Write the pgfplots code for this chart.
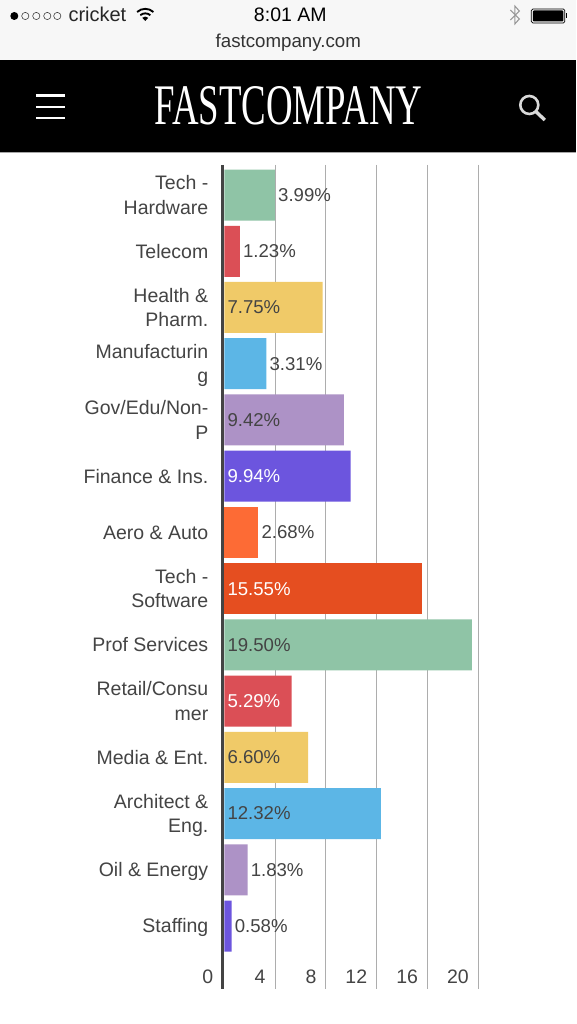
\documentclass[border=0pt]{standalone}
\usepackage{fontspec}
\setmainfont{Liberation Sans}
\newfontfamily\logofont{Liberation Serif}
\usepackage{graphicx}
\usepackage{pgfplots}
\pgfplotsset{compat=1.18}
\definecolor{cGreen}{HTML}{8FC4A6}
\definecolor{cRed}{HTML}{DB4F56}
\definecolor{cYellow}{HTML}{F0CA68}
\definecolor{cBlue}{HTML}{5CB6E6}
\definecolor{cPurple}{HTML}{AD92C6}
\definecolor{cViolet}{HTML}{6C55DE}
\definecolor{cOrange}{HTML}{FD6B35}
\definecolor{cDeep}{HTML}{E54E20}
\definecolor{txt}{HTML}{444444}
\begin{document}
\begin{tikzpicture}
\begin{scope}[x=1pt,y=1pt]
% page, y measured from the top of the screenshot
\fill[white] (0,0) rectangle (576,1024);
\fill[black!3] (0,1024) rectangle (576,964);
\fill[black] (0,1024-60.5) rectangle (576,1024-152.5);
\draw[black!35,line width=0.6pt] (0,1024-152.5) -- (576,1024-152.5);
% status bar
\fill[black] (14,1024-16) circle (4);
\foreach \x in {25,36,47,57}{\draw[black!75,line width=0.6pt] (\x,1024-16) circle (3.6);}
\node[anchor=base west,inner sep=0,font=\fontsize{20}{22}\selectfont,text=black!85] at (68,1024-22) {cricket};
\node[anchor=base,inner sep=0,font=\fontsize{19.5}{22}\selectfont,text=black] at (290,1024-22) {8:01 AM};
\node[anchor=base,inner sep=0,font=\fontsize{18.7}{22}\selectfont,text=black!80] at (288,1024-48) {fastcompany.com};
% wifi
\begin{scope}[shift={(145,1024-21)},line width=1.9pt,black]
\draw (-8.2,9) arc[start angle=132,end angle=48,radius=12.2];
\draw (-5,5.8) arc[start angle=130,end angle=50,radius=7.8];
\fill (0,0) -- (-3,3.2) arc[start angle=135,end angle=45,radius=4.2] -- cycle;
\end{scope}
% bluetooth
\draw[black!40,line width=1.1pt] (510,1024-10) -- (519,1024-19) -- (514.5,1024-24) -- (514.5,1024-6) -- (519,1024-11) -- (510,1024-20);
% battery
\draw[black,line width=0.7pt,rounded corners=1.5pt] (531,1024-9) rectangle (564.5,1024-23);
\fill[black,rounded corners=1pt] (532.5,1024-10.5) rectangle (563,1024-21.5);
\fill[black] (565.5,1024-13.5) rectangle (567,1024-18.5);
% header icons and wordmark
\foreach \y in {95.5,107,118}{\fill[white] (36,1024-\y-1.3) rectangle (65,1024-\y+1.3);}
\node[anchor=south west,inner sep=0,text=white] at (154,1024-125.5) {\resizebox{268pt}{38pt}{\logofont FASTCOMPANY}};
\draw[white!85!black,line width=2.6pt] (529,1024-105) circle (9);
\draw[white!85!black,line width=3.4pt] (536,1024-112) -- (544.5,1024-120);
\end{scope}
\begin{axis}[
  at={(222.5pt,35pt)},anchor=south west,
  scale only axis,width=255.5pt,height=824pt,
  xmin=-0.12,xmax=20,
  ymin=-0.534,ymax=14.12,y dir=reverse,
  axis lines=left,
  axis line style={-},
  x axis line style={draw=none},
  y axis line style={draw=txt,line width=3pt},
  xtick={-0.12,4,8,12,16,20},
  xticklabels={0,4,8,12,16,20},
  xmajorgrids,
  grid style={draw=black!32,line width=1pt},
  major tick length=0pt,
  ytick={0,...,13},
  yticklabels={{\strut Tech -\\Hardware\strut},\strut Telecom,{\strut Health \&\\Pharm.\strut},{\strut Manufacturin\\g\strut},{\strut Gov/Edu/Non-\\P\strut},{\strut Finance \& Ins.},{\strut Aero \& Auto},{\strut Tech -\\Software\strut},{\strut Prof Services},{\strut Retail/Consu\\mer\strut},{\strut Media \& Ent.},{\strut Architect \&\\Eng.\strut},{\strut Oil \& Energy},\strut Staffing},
  y tick label style={align=right,anchor=east,xshift=-11pt,yshift=-2pt,text=txt,font=\fontsize{19.5}{24.5}\selectfont},
  x tick label style={anchor=base east,xshift=-6pt,yshift=6pt,text=txt,font=\fontsize{19.5}{22}\selectfont},
  /pgf/number format/assume math mode=true,
  clip=false,
  every axis plot/.append style={bar width=51pt,bar shift=0pt},
]
\addplot[xbar,fill=cGreen,draw=none] coordinates {(3.99,0) (19.50,8)};
\addplot[xbar,fill=cRed,draw=none] coordinates {(1.23,1) (5.29,9)};
\addplot[xbar,fill=cYellow,draw=none] coordinates {(7.75,2) (6.60,10)};
\addplot[xbar,fill=cBlue,draw=none] coordinates {(3.31,3) (12.32,11)};
\addplot[xbar,fill=cPurple,draw=none] coordinates {(9.42,4) (1.83,12)};
\addplot[xbar,fill=cViolet,draw=none] coordinates {(9.94,5) (0.58,13)};
\addplot[xbar,fill=cOrange,draw=none] coordinates {(2.68,6)};
\addplot[xbar,fill=cDeep,draw=none] coordinates {(15.55,7)};
% value labels: x is where the label starts
\addplot[draw=none,mark=none,point meta=explicit symbolic,
  nodes near coords={\pgfplotspointmeta\%},
  every node near coord/.style={anchor=west,inner sep=0pt,xshift=3pt,text=txt,font=\fontsize{18.6}{20}\selectfont}]
  coordinates {(3.99,0)[3.99] (1.23,1)[1.23] (0,2)[7.75] (3.31,3)[3.31] (0,4)[9.42] (2.68,6)[2.68] (0,8)[19.50] (0,10)[6.60] (0,11)[12.32] (1.83,12)[1.83] (0.58,13)[0.58]};
\addplot[draw=none,mark=none,point meta=explicit symbolic,
  nodes near coords={\pgfplotspointmeta\%},
  every node near coord/.style={anchor=west,inner sep=0pt,xshift=3pt,text=white,font=\fontsize{18.6}{20}\selectfont}]
  coordinates {(0,5)[9.94] (0,7)[15.55] (0,9)[5.29]};
\end{axis}
\end{tikzpicture}
\end{document}
